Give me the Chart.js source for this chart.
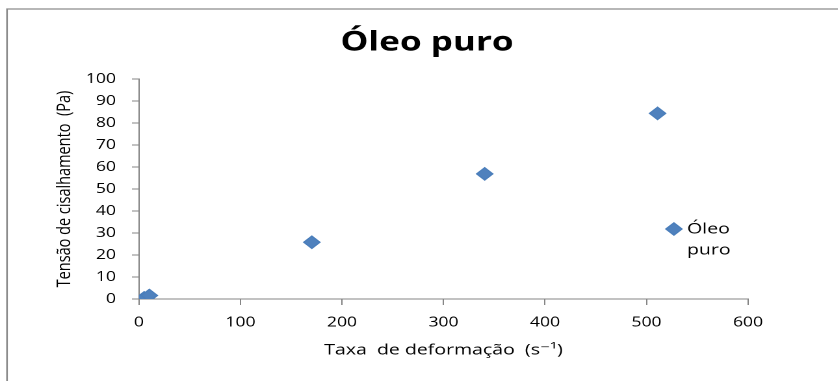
<!DOCTYPE html>
<html>
<head>
<meta charset="utf-8">
<script src="https://cdn.jsdelivr.net/npm/chart.js@4/dist/chart.umd.min.js"></script>
<style>
  html, body { margin: 0; padding: 0; background: #fff; overflow: hidden; }
  /* the chart is laid out narrow and widened horizontally */
  #stage { width: 645px; height: 381px; transform: scaleX(1.3); transform-origin: 0 0; }
</style>
</head>
<body>
<div id="stage"><canvas id="chart" width="645" height="381"></canvas></div>
<script>
// Shear rate (s^-1) and shear stress (Pa) for the pure oil sample
const shearRate   = [5.11, 10.22, 170.3, 340.6, 510.9];
const shearStress = [0.5, 1.6, 25.8, 56.9, 84.4];
const seriesName  = 'Óleo puro';

const xTickValues = [0, 100, 200, 300, 400, 500, 600];
const yTickValues = [0, 10, 20, 30, 40, 50, 60, 70, 80, 90, 100];

const chartTitle = 'Óleo puro';
const xTitle = 'Taxa  de deformação  (s⁻¹)';
const yTitle = 'Tensão de cisalhamento  (Pa)';

const MARKER_FILL = '#4F81BD';
const MARKER_EDGE = '#4A7EBB';
const AXIS_GREY = '#868686';
const FONT = "'Open Sans', 'DejaVu Sans', sans-serif";

const points = shearRate.map((x, i) => ({ x: x, y: shearStress[i] }));

// white background plus the outer frame of the chart object
const framePlugin = {
  id: 'frame',
  beforeDraw(chart) {
    const ctx = chart.ctx;
    ctx.save();
    ctx.fillStyle = '#fff';
    ctx.fillRect(0, 0, chart.width, chart.height);
    ctx.strokeStyle = '#8c8c8c';
    ctx.lineWidth = 1.3;
    ctx.beginPath();
    ctx.moveTo(5.4, chart.height);
    ctx.lineTo(5.4, 9);
    ctx.lineTo(chart.width, 9);
    ctx.stroke();
    ctx.restore();
  }
};

// centre the title over the whole chart object (its right edge runs past the page)
const titleCenterPlugin = {
  id: 'titleCenter',
  afterLayout(chart) {
    const t = chart.titleBlock;
    if (t) { t.left = 5.4; t.right = chart.width + 6.6; }
  }
};

// legend on the right: marker plus the series name wrapped on two lines
const sideLegendPlugin = {
  id: 'sideLegend',
  afterDraw(chart) {
    const ctx = chart.ctx;
    const area = chart.chartArea;
    const ds = chart.data.datasets[0];
    const mx = area.right - 57, my = 229, r = 6.3;
    ctx.save();
    ctx.beginPath();
    ctx.moveTo(mx - r, my);
    ctx.lineTo(mx, my - r);
    ctx.lineTo(mx + r, my);
    ctx.lineTo(mx, my + r);
    ctx.closePath();
    ctx.fillStyle = ds.backgroundColor;
    ctx.fill();
    ctx.strokeStyle = ds.borderColor;
    ctx.lineWidth = 1;
    ctx.stroke();
    ctx.fillStyle = '#000';
    ctx.font = '15px ' + FONT;
    ctx.textAlign = 'left';
    ctx.textBaseline = 'middle';
    ds.label.split(' ').forEach((word, i) => {
      ctx.fillText(word, area.right - 46.9, my + i * 21);
    });
    ctx.restore();
  }
};

new Chart(document.getElementById('chart'), {
  type: 'scatter',
  data: {
    datasets: [{
      label: seriesName,
      data: points,
      pointStyle: 'rectRot',
      pointRadius: 6.3,
      pointHoverRadius: 6.3,
      backgroundColor: MARKER_FILL,
      borderColor: MARKER_EDGE,
      borderWidth: 1,
      showLine: false
    }]
  },
  options: {
    responsive: false,
    animation: false,
    devicePixelRatio: 2,
    layout: { padding: { left: 35, right: 69.6, top: 0, bottom: 16 } },
    plugins: {
      legend: { display: false },
      tooltip: { enabled: false },
      title: {
        display: true,
        text: chartTitle,
        color: '#000',
        font: { family: FONT, size: 27, weight: 'bold', lineHeight: 1.2 },
        padding: { top: 26.8, bottom: 19.8 }
      }
    },
    scales: {
      x: {
        type: 'linear',
        min: 0,
        max: 600,
        afterBuildTicks: s => { s.ticks = xTickValues.map(v => ({ value: v })); },
        afterFit: s => { s.height = 66; },
        border: { display: true, color: AXIS_GREY, width: 1 },
        grid: { drawOnChartArea: false, drawTicks: true, tickLength: 6, color: AXIS_GREY },
        ticks: { color: '#000', font: { family: FONT, size: 13.5 }, padding: 9.8, maxRotation: 0 },
        title: {
          display: true,
          text: xTitle,
          color: '#000',
          font: { family: FONT, size: 15 },
          padding: { top: 2, bottom: 6 }
        }
      },
      y: {
        type: 'linear',
        min: 0,
        max: 100,
        afterBuildTicks: s => { s.ticks = yTickValues.map(v => ({ value: v })); },
        afterFit: s => { s.width = 71.9; },
        border: { display: true, color: AXIS_GREY, width: 1 },
        grid: { drawOnChartArea: false, drawTicks: true, tickLength: 5.4, color: AXIS_GREY },
        ticks: { color: '#000', font: { family: FONT, size: 13.5 }, padding: 12.3 },
        title: {
          display: true,
          text: yTitle,
          color: '#000',
          font: { family: FONT, size: 14.5 },
          padding: { top: 6.3, bottom: 2 }
        }
      }
    }
  },
  plugins: [framePlugin, titleCenterPlugin, sideLegendPlugin]
});
</script>
</body>
</html>
